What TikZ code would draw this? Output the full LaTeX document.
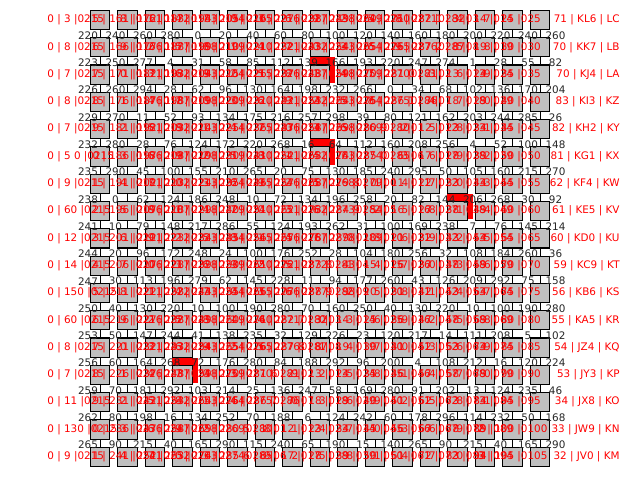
\documentclass[tikz,border=0pt]{standalone}
\usepackage{fontspec}
\setmainfont{DejaVu Sans}
\usetikzlibrary{calc}
\definecolor{cajagris}{RGB}{191,191,191}
\definecolor{textorojo}{RGB}{255,0,0}

\begin{document}
\begin{tikzpicture}[x=0.75pt,y=-0.75pt,line width=0.6pt]
    \tikzset{
      caja/.style={draw=black,fill=cajagris,minimum width=14.4pt,minimum height=14.4pt,inner sep=0pt,line width=0.8pt},
      etiq/.style={textorojo,font=\fontsize{7.8}{9}\selectfont,inner sep=0pt},
      numero/.style={black!85,font=\fontsize{7.8}{9}\selectfont,inner sep=0pt}
    }
    \useasboundingbox (0,0) rectangle (640,480);
    % lineas verticales entre filas
    \foreach \c in {0,...,16}{
      \draw ({100+27.5*\c},20) -- ({100+27.5*\c},457);
    }
    % cajas
    \foreach \r in {0,...,16}{
      \foreach \c in {0,...,16}{
        \node[caja] (b-\r-\c) at ({100+27.5*\c},{20+27.3*\r}) {};
      }
    }
    % marcas rojas (arriba y derecha de la caja)
    \foreach \r/\c in {2/8,5/8,7/13,13/3}{
      \fill[textorojo] ($(b-\r-\c.north west)+(0,-7)$) rectangle ($(b-\r-\c.north east)+(5,0)$);
      \fill[textorojo] ($(b-\r-\c.north east)+(0,-7)$) rectangle ($(b-\r-\c.south east)+(5,-2)$);
    }
    % numeros negros en las esquinas
    \foreach \r in {1,...,16}{
      \foreach \c in {0,...,17}{
        \pgfmathtruncatemacro{\val}{mod(217+13*\c+7*\r*\c+3*\r,300)}
        \node[numero] at ({88+27.5*\c},{35.5+27.3*(\r-1)}) {\val};
      }
    }
    % etiquetas rojas de las cajas
    \foreach \r in {0,...,16}{
      \foreach \c in {1,...,15}{
        \pgfmathtruncatemacro{\val}{mod(150+11*\c+5*\r,290)}
        \pgfmathtruncatemacro{\idx}{mod(2+3*\c+\r,10)}
        \node[etiq] at (b-\r-\c) {\idx\ | \val\ |0\val};
      }
    }
    % etiquetas de los extremos
    \foreach \n [count=\r from 0] in {3,8,7,8,7,5 0,9,60,12,14,150,60,8,7,11,130,9}{
      \node[etiq,anchor=west] at (47,{20+27.3*\r}) {0 | \n\ |0215};
    }
    \foreach \n/\f [count=\r from 0] in {71 | KL6/LC,70 | KK7/LB,70 | KJ4/LA,83 | KI3/KZ,82 | KH2/KY,81 | KG1/KX,62 | KF4/KW,61 | KE5/KV,60 | KD0/KU,59 | KC9/KT,56 | KB6/KS,55 | KA5/KR,54 | JZ4/KQ,53 | JY3/KP,34 | JX8/KO,33 | JW9/KN,32 | JV0/KM}{
      \node[etiq,anchor=east] at (620,{20+27.3*\r}) {\n\ | \f};
    }
\end{tikzpicture}
\end{document}
